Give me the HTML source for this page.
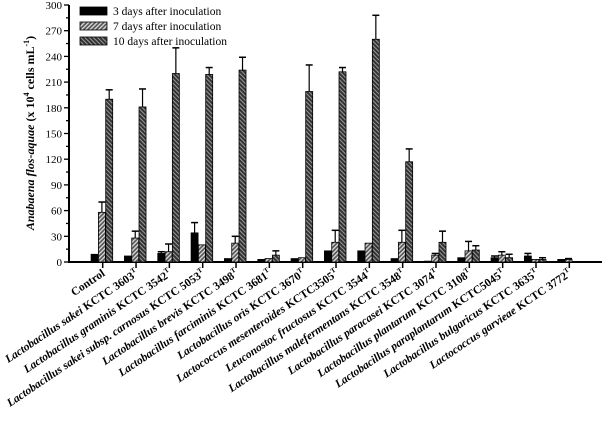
<!DOCTYPE html>
<html><head><meta charset="utf-8"><style>
body{margin:0;background:#fff}
svg{display:block}
text,tspan{font-family:"Liberation Serif","DejaVu Serif",serif !important}
</style></head><body>
<svg id="chart" width="604" height="427" viewBox="0 0 604 427" style="font-family:'Liberation Serif','DejaVu Serif',serif">
<defs>
<pattern id="h7" patternUnits="userSpaceOnUse" width="3" height="3" patternTransform="rotate(45)">
<rect width="3" height="3" fill="#555"/><rect width="1.3" height="3" fill="#ddd"/></pattern>
<pattern id="h10" patternUnits="userSpaceOnUse" width="3" height="3" patternTransform="rotate(-45)">
<rect width="3" height="3" fill="#333"/><rect width="1" height="3" fill="#999"/></pattern>
</defs>
<g id="g"></g>
</svg>
<script>
const categories=[["Control",""],["Lactobacillus sakei","KCTC 3603"],["Lactobacillus graminis","KCTC 3542"],["Lactobacillus sakei subsp. carnosus","KCTC 5053"],["Lactobacillus brevis","KCTC 3498"],["Lactobacillus farciminis","KCTC 3681"],["Lactobacillus oris","KCTC 3670"],["Lactococcus mesenteroides","KCTC3505"],["Leuconostoc fructosus","KCTC 3544"],["Lactobacillus malefermentans","KCTC 3548"],["Lactobacillus paracasei","KCTC 3074"],["Lactobacillus plantarum","KCTC 3108"],["Lactobacillus paraplantarum","KCTC5045"],["Lactobacillus bulgaricus","KCTC 3635"],["Lactococcus garvieae","KCTC 3772"]];
const day3=[9,7,10,34,4,3,4,13,13,4,1,5,5,7,3];
const day3err=[0,0,2,12,0,0,0,0,0,0,0,0,2,3,0];
const day7=[58,28,12,20,22,4,5,23,22,23,8,13,8,3,3];
const day7err=[12,8,9,0,8,0,0,14,0,14,2,11,4,0,1];
const day10=[190,181,220,219,224,8,199,222,260,117,23,14,5,3,0];
const day10err=[11,21,30,8,15,5,31,5,28,15,13,5,4,2,0];
const yTicks=[0,30,60,90,120,150,180,210,240,270,300];
const series=[["3 days after inoculation",day3,day3err,"#000"],["7 days after inoculation",day7,day7err,"url(#h7)"],["10 days after inoculation",day10,day10err,"url(#h10)"]];
const NS="http://www.w3.org/2000/svg",g=document.getElementById("g");
const X0=69,Y0=262,YT=5;
const y=v=>Y0-(v/300)*(Y0-YT);
const xc=i=>102.7+i*33.33;
function mk(t,a,p){const e=document.createElementNS(NS,t);for(const k in a)e.setAttribute(k,a[k]);if(t==="text")e.setAttribute("style","font-family:'Liberation Serif','DejaVu Serif',serif");(p||g).appendChild(e);return e;}
const ya=mk("line",{x1:X0,y1:YT,x2:X0,y2:Y0+1,stroke:"#000","stroke-width":2});


const xa=mk("line",{x1:X0,y1:Y0,x2:602,y2:Y0,stroke:"#000","stroke-width":2});


for(let v=0;v<=300;v+=15){mk("line",{x1:X0-(v%30?3:5),y1:y(v),x2:X0,y2:y(v),stroke:"#000","stroke-width":1.3});}
yTicks.forEach(v=>{const t=mk("text",{x:X0-7,y:y(v)+4,"text-anchor":"end","font-size":11});t.textContent=v;

});
const yt=mk("text",{transform:"translate(34,133) rotate(-90)","text-anchor":"middle","font-size":12,"font-weight":"bold"});


yt.innerHTML='<tspan font-style="italic">Anabaena flos-aquae</tspan> (x 10<tspan font-size="8" dy="-5">4</tspan><tspan dy="5"> cells mL</tspan><tspan font-size="8" dy="-5">-1</tspan><tspan dy="5">)</tspan>';
categories.forEach((c,i)=>{
 mk("line",{x1:xc(i),y1:Y0,x2:xc(i),y2:Y0+6,stroke:"#000","stroke-width":1.5});
 series.forEach((s,j)=>{
  const v=s[1][i],e=s[2][i];if(v<=0)return;
  const bx=xc(i)-11.6+j*7.3;
  const r=mk("rect",{x:bx,y:y(v),width:7,height:Y0-y(v),fill:s[3],stroke:"#000","stroke-width":0.8});
  
  
  if(e>0){const cx=bx+3.5;mk("line",{x1:cx,y1:y(v),x2:cx,y2:y(v+e),stroke:"#000","stroke-width":1.2});
   mk("line",{x1:cx-3.5,y1:y(v+e),x2:cx+3.5,y2:y(v+e),stroke:"#000","stroke-width":1.5});}
 });
 const t=mk("text",{transform:`translate(${xc(i)+3},${Y0+13}) rotate(-34)`,"text-anchor":"end","font-size":11.5,"font-weight":"bold"});
 
 
 if(c[1]) t.innerHTML=`<tspan font-style="italic">${c[0]}</tspan> ${c[1]}<tspan font-size="7" dy="-5">T</tspan>`;
 else t.textContent=c[0];
});
series.forEach((s,j)=>{
 const ly=7+j*15;
 const lg=mk("g",{});
 
 
 mk("rect",{x:80,y:ly,width:27,height:8,fill:s[3],stroke:"#000","stroke-width":0.8},lg);
 const t=mk("text",{x:113,y:ly+8,"font-size":11.5},lg);t.textContent=s[0];
});
</script>
</body></html>
